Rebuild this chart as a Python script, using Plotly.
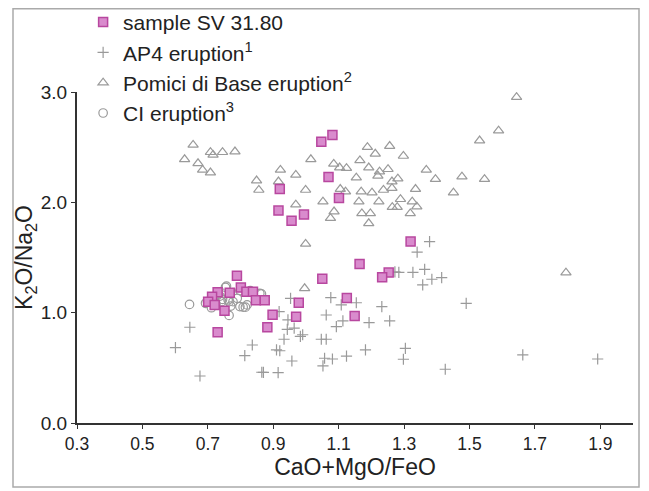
import plotly.graph_objects as go

# sample SV 31.80 (squares)
sv_x = [1.047, 1.081, 1.069, 0.920, 1.101, 0.916, 0.956, 0.994,
        0.789, 0.730, 0.767, 0.801, 0.818, 0.838, 0.713, 0.701, 0.721, 0.751,
        0.847, 0.874, 0.978, 0.898, 0.970, 0.882, 0.730, 1.050, 1.125, 1.149,
        1.164, 1.253, 1.233, 1.320]
sv_y = [2.55, 2.61, 2.23, 2.12, 2.04, 1.925, 1.834, 1.889,
        1.335, 1.185, 1.181, 1.227, 1.19, 1.19, 1.145, 1.10, 1.07, 1.018,
        1.112, 1.112, 1.09, 0.982, 0.964, 0.868, 0.822, 1.308, 1.133, 0.970,
        1.44, 1.363, 1.321, 1.644]

# AP4 eruption (plus)
ap4_x = [0.645, 0.601, 0.676, 0.836, 0.813, 0.865, 0.870, 0.915, 0.910, 0.920,
         0.933, 0.957, 0.918, 0.945, 0.943, 0.964, 0.953, 0.990, 0.983, 1.047,
         1.062, 1.062, 1.076, 1.093, 1.113, 1.108, 1.057, 1.081, 1.052, 1.124,
         1.154, 1.193, 1.232, 1.256, 1.182, 1.304, 1.298, 1.426, 1.490, 1.663,
         1.892, 1.284, 1.327, 1.363, 1.385, 1.415, 1.357, 1.378, 1.340, 1.272]
ap4_y = [0.868, 0.683, 0.426, 0.707, 0.610, 0.460, 0.458, 0.456, 0.662, 0.655,
         0.759, 0.562, 1.009, 0.934, 0.849, 0.859, 1.130, 0.800, 0.785, 0.759,
         0.759, 0.979, 1.136, 0.873, 0.925, 1.070, 0.587, 0.580, 0.517, 0.607,
         1.090, 0.909, 1.054, 0.925, 0.662, 0.677, 0.578, 0.487, 1.085, 0.617,
         0.580, 1.366, 1.366, 1.393, 1.303, 1.317, 1.251, 1.644, 1.548, 1.370]

# Pomici di Base eruption (triangles)
pb_x = [0.655, 0.629, 0.708, 0.716, 0.745, 0.783, 0.670, 0.684, 0.708, 0.849,
        0.856, 0.916, 0.922, 0.969, 1.015, 0.999, 0.969, 1.052, 1.085, 1.086,
        1.075, 0.999, 1.188, 1.256, 1.212, 1.298, 1.165, 1.103, 1.124, 1.192,
        1.225, 1.251, 1.154, 1.220, 1.281, 1.263, 1.368, 1.396, 1.477, 1.546,
        1.531, 1.105, 1.121, 1.169, 1.202, 1.237, 1.263, 1.335, 1.162, 1.223,
        1.289, 1.325, 1.264, 1.279, 1.339, 1.451, 1.171, 1.197, 1.319, 1.192,
        1.644, 1.589, 1.795, 0.996]
pb_y = [2.52, 2.39, 2.454, 2.43, 2.454, 2.46, 2.354, 2.294, 2.27, 2.197,
        2.112, 2.188, 2.294, 2.248, 2.39, 2.112, 1.979, 2.006, 2.348, 1.916,
        1.856, 1.623, 2.50, 2.51, 2.44, 2.42, 2.38, 2.315, 2.31, 2.315,
        2.278, 2.30, 2.224, 2.24, 2.215, 2.188, 2.294, 2.21, 2.233, 2.21,
        2.56, 2.12, 2.097, 2.097, 2.088, 2.112, 2.128, 2.12, 2.006, 2.006,
        2.028, 2.006, 1.956, 1.956, 1.961, 2.088, 1.90, 1.90, 1.90, 1.81,
        2.953, 2.65, 1.363, 1.221]

# CI eruption (circles)
ci_x = [0.644, 0.693, 0.699, 0.711, 0.716, 0.730, 0.737, 0.742, 0.745, 0.754,
        0.757, 0.762, 0.765, 0.777, 0.770, 0.765, 0.790, 0.798, 0.798, 0.808,
        0.815, 0.820, 0.830, 0.859, 0.864, 0.725]
ci_y = [1.075, 1.085, 1.10, 1.045, 1.13, 1.16, 1.15, 1.10, 1.12, 1.23,
        1.24, 1.115, 1.10, 1.10, 1.06, 0.975, 1.13, 1.20, 1.055, 1.05,
        1.05, 1.07, 1.20, 1.175, 1.17, 1.08]

x_ticks = [0.3, 0.5, 0.7, 0.9, 1.1, 1.3, 1.5, 1.7, 1.9]
y_ticks = [0.0, 1.0, 2.0, 3.0]

grey = "#9a9a9a"
fig = go.Figure()
fig.add_trace(go.Scatter(x=ci_x, y=ci_y, mode="markers", name="CI eruption<sup>3</sup>",
                         marker=dict(symbol="circle-open", size=8.5, color=grey, line=dict(width=1.2))))
fig.add_trace(go.Scatter(x=pb_x, y=pb_y, mode="markers", name="Pomici di Base eruption<sup>2</sup>",
                         marker=dict(symbol="triangle-up-open", size=9, color=grey, line=dict(width=1.2))))
fig.add_trace(go.Scatter(x=ap4_x, y=ap4_y, mode="markers", name="AP4 eruption<sup>1</sup>",
                         marker=dict(symbol="cross-thin-open", size=8, color=grey, line=dict(width=1.2, color=grey))))
fig.add_trace(go.Scatter(x=sv_x, y=sv_y, mode="markers", name="sample SV 31.80",
                         marker=dict(symbol="square", size=9, color="#d98bcd",
                                     line=dict(width=1.5, color="#b8479f"))))

# figure is offset by the page's 8px body margin
L, T, PW, PH = 69, 84, 556, 331
fig.update_layout(
    width=641, height=483,
    margin=dict(l=L, r=641 - L - PW, t=T, b=483 - T - PH, autoexpand=False),
    paper_bgcolor="white", plot_bgcolor="white",
    font=dict(family="Liberation Sans, Arial, sans-serif", color="#222222"),
    showlegend=True,
    legend=dict(x=0.011, y=1.272, xanchor="left", yanchor="top", traceorder="reversed",
                font=dict(size=21, color="#222222"), bgcolor="rgba(0,0,0,0)",
                itemwidth=30, tracegroupgap=0),
    xaxis=dict(range=[0.3, 2.0], tickvals=x_ticks, ticktext=[f"{v:.1f}" for v in x_ticks],
               showgrid=False, zeroline=False, showline=True, linecolor="#333333", linewidth=2,
               ticks="outside", ticklen=4, tickcolor="#333333", tickwidth=1,
               tickfont=dict(size=17.5),
               title=dict(text="CaO+MgO/FeO", font=dict(size=23), standoff=4)),
    yaxis=dict(range=[0, 3.0], tickvals=y_ticks, ticktext=[f"{v:.1f}" for v in y_ticks],
               showgrid=False, zeroline=False, showline=True, linecolor="#333333", linewidth=2,
               ticks="outside", ticklen=4, tickcolor="#333333", tickwidth=1,
               tickfont=dict(size=19),
               title=dict(text="K<sub>2</sub>O/Na<sub>2</sub>O", font=dict(size=23), standoff=2)),
    shapes=[dict(type="rect", xref="paper", yref="paper",
                 x0=(5 - L) / PW, x1=(631 - L) / PW,
                 y0=(T + PH - 479) / PH, y1=(T + PH - 0.8) / PH,
                 line=dict(color="#aaaaaa", width=1.5), fillcolor="rgba(0,0,0,0)", layer="below")],
)

fig.write_html("out.html")
